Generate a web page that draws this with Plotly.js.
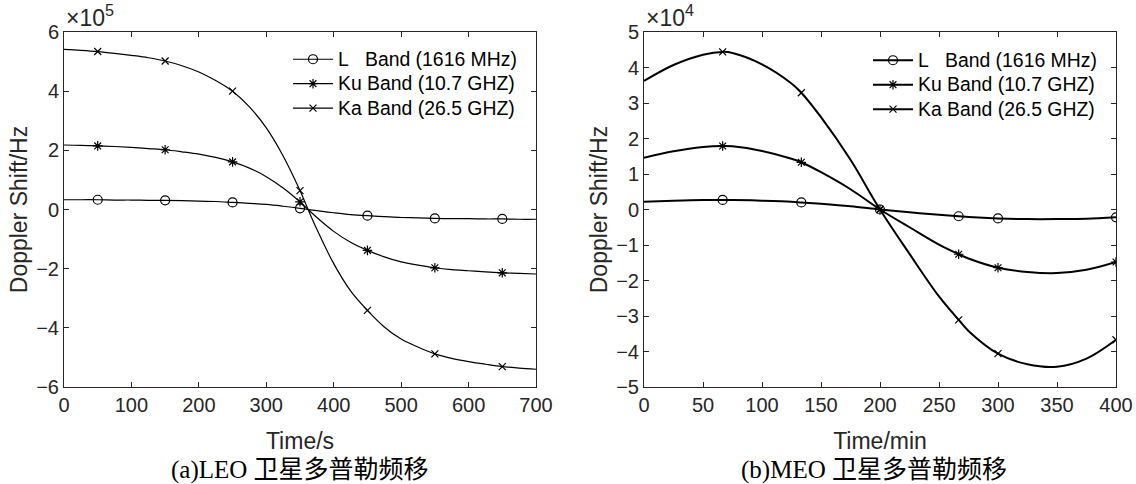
<!DOCTYPE html>
<html>
<head>
<meta charset="utf-8">
<script src="https://cdn.plot.ly/plotly-3.0.1.min.js"></script>
<style>html,body{margin:0;padding:0;background:#fff;}#chart{width:1136px;height:484px;}</style>
</head>
<body>
<div id="chart"></div>
<script>
// ---- Data (values in units shown on axes: x10^5 Hz for LEO, x10^4 Hz for MEO) ----
const seriesNames = ['L\u00A0\u00A0\u00A0Band (1616 MHz)', 'Ku Band (10.7 GHZ)', 'Ka Band (26.5 GHZ)'];

const leoTime = [0,25,50,75,100,125,150,175,200,225,250,275,300,325,350,362,375,400,425,450,475,500,525,550,575,600,625,650,675,700];
const leoL  = [0.33,0.33,0.33,0.32,0.32,0.31,0.31,0.30,0.28,0.27,0.24,0.21,0.17,0.11,0.04,0,-0.04,-0.11,-0.17,-0.21,-0.24,-0.27,-0.28,-0.30,-0.31,-0.31,-0.32,-0.32,-0.33,-0.33];
const leoKu = [2.18,2.17,2.15,2.13,2.10,2.06,2.02,1.95,1.87,1.76,1.61,1.40,1.11,0.73,0.26,0,-0.27,-0.74,-1.11,-1.38,-1.60,-1.77,-1.88,-1.97,-2.03,-2.07,-2.11,-2.14,-2.16,-2.18];
const leoKa = [5.41,5.38,5.34,5.28,5.21,5.13,5.02,4.86,4.65,4.36,4.00,3.47,2.76,1.81,0.64,0,-0.67,-1.83,-2.75,-3.41,-3.97,-4.38,-4.65,-4.88,-5.03,-5.14,-5.23,-5.31,-5.36,-5.40];

const leoMarkTime = [50,150,250,350,450,550,650];
const leoMarkL  = [0.33,0.31,0.24,0.04,-0.21,-0.30,-0.32];
const leoMarkKu = [2.15,2.02,1.61,0.26,-1.38,-1.97,-2.14];
const leoMarkKa = [5.34,5.02,4.00,0.64,-3.41,-4.88,-5.31];

const meoTime = [0,25,50,66.67,75,100,125,133.33,150,175,200,225,250,266.67,275,300,325,350,375,400];
const meoL  = [0.22,0.25,0.27,0.27,0.27,0.25,0.22,0.20,0.16,0.09,0,-0.08,-0.15,-0.19,-0.21,-0.25,-0.27,-0.27,-0.26,-0.22];
const meoKu = [1.46,1.64,1.76,1.79,1.78,1.65,1.43,1.33,1.05,0.57,0,-0.50,-0.99,-1.26,-1.38,-1.64,-1.76,-1.79,-1.70,-1.48];
const meoKa = [3.62,4.07,4.36,4.44,4.41,4.09,3.55,3.29,2.60,1.40,0,-1.25,-2.45,-3.11,-3.42,-4.06,-4.36,-4.43,-4.20,-3.67];

const meoMarkTime = [66.67,133.33,200,266.67,300,400];
const meoMarkL  = [0.27,0.20,0,-0.19,-0.25,-0.22];
const meoMarkKu = [1.79,1.33,0,-1.26,-1.64,-1.48];
const meoMarkKa = [4.44,3.29,0,-3.11,-4.06,-3.67];

const leoXTicks = [0,100,200,300,400,500,600,700];
const leoYTicks = [-6,-4,-2,0,2,4,6];
const meoXTicks = [0,50,100,150,200,250,300,350,400];
const meoYTicks = [-5,-4,-3,-2,-1,0,1,2,3,4,5];

// ---- Styling ----
const symbols = ['circle-open', 'asterisk-open', 'x-thin-open'];
const msizes = [9, 8, 7];
const SANS = 'Liberation Sans, Arial, sans-serif';
const SERIF = 'Liberation Serif, Noto Sans CJK SC, serif';
const AX = '#262626';

function legendLabel(s) { return '<span style="font-size:19.4px">' + s + '</span>'; }

function addSeries(traces, xs, ys, mx, my, idx, xa, ya, lw, legendId) {
  traces.push({x: xs, y: ys, xaxis: xa, yaxis: ya, mode: 'lines', showlegend: false,
    line: {color: '#000', width: lw, shape: 'spline', smoothing: 1}, hoverinfo: 'skip'});
  traces.push({x: mx, y: my, xaxis: xa, yaxis: ya, mode: 'markers', showlegend: false,
    marker: {symbol: symbols[idx], size: msizes[idx], color: '#000', line: {color: '#000', width: 1.2}}, hoverinfo: 'skip'});
  traces.push({x: [null], y: [null], xaxis: xa, yaxis: ya, mode: 'lines+markers', name: legendLabel(seriesNames[idx]),
    legend: legendId, line: {color: '#000', width: lw},
    marker: {symbol: symbols[idx], size: msizes[idx], color: '#000', line: {color: '#000', width: 1.2}}});
}

const traces = [];
addSeries(traces, leoTime, leoL, leoMarkTime, leoMarkL, 0, 'x', 'y', 1.2, 'legend');
addSeries(traces, leoTime, leoKu, leoMarkTime, leoMarkKu, 1, 'x', 'y', 1.2, 'legend');
addSeries(traces, leoTime, leoKa, leoMarkTime, leoMarkKa, 2, 'x', 'y', 1.2, 'legend');
addSeries(traces, meoTime, meoL, meoMarkTime, meoMarkL, 0, 'x2', 'y2', 2, 'legend2');
addSeries(traces, meoTime, meoKu, meoMarkTime, meoMarkKu, 1, 'x2', 'y2', 2, 'legend2');
addSeries(traces, meoTime, meoKa, meoMarkTime, meoMarkKa, 2, 'x2', 'y2', 2, 'legend2');

const W = 1136, H = 484, ML = 64, MR = 20, MT = 32, MB = 97;
const PW = W - ML - MR, PH = H - MT - MB;
const px = v => (v - ML) / PW;   // pixel -> paper x
const py = v => 1 - (v - MT) / PH; // pixel -> paper y

function axisBase(extra) {
  return Object.assign({
    showgrid: false, zeroline: false, showline: true, linecolor: AX, linewidth: 1,
    mirror: 'ticks', ticks: 'inside', ticklen: 5, tickwidth: 1, tickcolor: AX,
    tickfont: {family: SANS, size: 20, color: AX}, automargin: false, fixedrange: true
  }, extra);
}

const titleFont = {family: SANS, size: 23, color: AX};

const layout = {
  width: W, height: H,
  margin: {l: ML, r: MR, t: MT, b: MB},
  paper_bgcolor: '#fff', plot_bgcolor: '#fff',
  hovermode: false,
  xaxis: axisBase({domain: [0, px(536)], range: [0, 700], tickvals: leoXTicks,
    title: {text: 'Time/s', font: titleFont, standoff: 17}}),
  yaxis: axisBase({domain: [0, 1], range: [-6, 6], tickvals: leoYTicks,
    title: {text: 'Doppler Shift/Hz', font: titleFont, standoff: 2}}),
  xaxis2: axisBase({domain: [px(644), px(1116)], range: [0, 400], tickvals: meoXTicks, anchor: 'y2',
    title: {text: 'Time/min', font: titleFont, standoff: 17}}),
  yaxis2: axisBase({domain: [0, 1], range: [-5, 5], tickvals: meoYTicks, anchor: 'x2',
    title: {text: 'Doppler Shift/Hz', font: titleFont, standoff: 2}}),
  legend: {x: px(288), y: py(42), xanchor: 'left', yanchor: 'top', bgcolor: 'rgba(0,0,0,0)',
    font: {family: SANS, size: 16.5, color: '#000'}, itemwidth: 40, tracegroupgap: 0},
  legend2: {x: px(868), y: py(43), xanchor: 'left', yanchor: 'top', bgcolor: 'rgba(0,0,0,0)',
    font: {family: SANS, size: 16.5, color: '#000'}, itemwidth: 40, tracegroupgap: 0},
  annotations: [
    {xref: 'paper', yref: 'paper', x: px(64), y: py(33), xanchor: 'left', yanchor: 'bottom',
     text: '\u00D710<sup>5</sup>', showarrow: false, font: {family: SANS, size: 23, color: AX}},
    {xref: 'paper', yref: 'paper', x: px(644), y: py(33), xanchor: 'left', yanchor: 'bottom',
     text: '\u00D710<sup>4</sup>', showarrow: false, font: {family: SANS, size: 23, color: AX}},
    {xref: 'paper', yref: 'paper', x: px(300), y: py(470), xanchor: 'center', yanchor: 'middle',
     text: '(a)LEO 卫星多普勒频移', showarrow: false, font: {family: SERIF, size: 25, color: '#000'}},
    {xref: 'paper', yref: 'paper', x: px(874), y: py(470), xanchor: 'center', yanchor: 'middle',
     text: '(b)MEO 卫星多普勒频移', showarrow: false, font: {family: SERIF, size: 25, color: '#000'}}
  ]
};

Plotly.newPlot('chart', traces, layout, {staticPlot: true, displayModeBar: false});
</script>
</body>
</html>
